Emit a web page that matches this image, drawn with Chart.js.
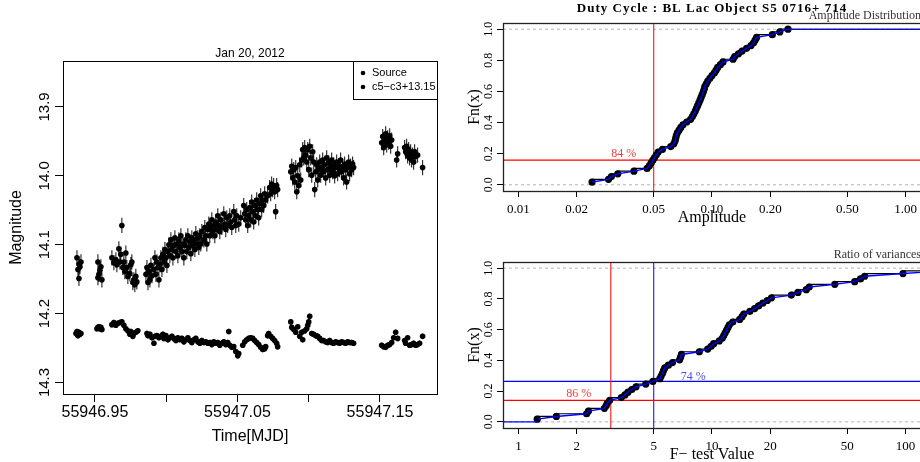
<!DOCTYPE html>
<html>
<head>
<meta charset="utf-8">
<script src="https://cdn.jsdelivr.net/npm/chart.js@4.4.0/dist/chart.umd.min.js"></script>
<style>
  html, body { margin: 0; padding: 0; background: #fff; overflow: hidden; }
  #wrap { position: relative; width: 920px; height: 462px; overflow: hidden; }
  canvas { position: absolute; }
  #lightCurve { left: 0; top: 0; width: 460px; height: 462px; }
  #ampChart { left: 460px; top: 0; width: 470px; height: 231px; }
  #fChart { left: 460px; top: 231px; width: 470px; height: 231px; }
</style>
</head>
<body>
<div id="wrap">
  <canvas id="lightCurve" width="460" height="462"></canvas>
  <canvas id="ampChart" width="470" height="231"></canvas>
  <canvas id="fChart" width="470" height="231"></canvas>
</div>
<script>
// ---- light curve (times are days after MJD0) ----
const MJD0 = 55946;

const sourceTime = [
  0.9374, 0.9381, 0.9388, 0.9388, 0.9395, 0.9402,
  0.9521, 0.9521, 0.9528, 0.9535, 0.9542, 0.9549,
  0.9619, 0.9633, 0.9647, 0.9654, 0.9668, 0.9675, 0.9682, 0.9689, 0.9696, 0.9703, 0.9710,
  0.9717, 0.9724, 0.9731, 0.9745, 0.9752, 0.9759, 0.9766, 0.9773, 0.9780, 0.9787, 0.9794,
  0.9858, 0.9865, 0.9872, 0.9879, 0.9886, 0.9893, 0.9900,
  0.9914, 0.9921, 0.9928, 0.9935, 0.9942, 0.9949, 0.9956, 0.9963, 0.9970, 0.9977,
  0.9984, 0.9991, 0.9998, 1.0005, 1.0012, 1.0019, 1.0026, 1.0033, 1.0040, 1.0047,
  1.0054, 1.0061, 1.0068, 1.0075, 1.0082, 1.0089, 1.0096, 1.0103, 1.0110, 1.0117,
  1.0124, 1.0131, 1.0138, 1.0145, 1.0152, 1.0159, 1.0166, 1.0173, 1.0180, 1.0187,
  1.0194, 1.0201, 1.0208, 1.0215, 1.0222, 1.0229, 1.0236, 1.0243, 1.0250, 1.0264,
  1.0271, 1.0278, 1.0285, 1.0292, 1.0299, 1.0306, 1.0313, 1.0320, 1.0327, 1.0334,
  1.0341, 1.0348, 1.0355, 1.0362, 1.0369, 1.0376, 1.0383, 1.0390, 1.0404, 1.0411,
  1.0418, 1.0425, 1.0432, 1.0446, 1.0453, 1.0460, 1.0474, 1.0481, 1.0488, 1.0495,
  1.0509, 1.0523, 1.0544, 1.0551, 1.0558, 1.0565, 1.0572, 1.0579, 1.0586, 1.0593,
  1.0600, 1.0607, 1.0614, 1.0621, 1.0628, 1.0635, 1.0642, 1.0649, 1.0656, 1.0663,
  1.0670, 1.0677, 1.0684, 1.0691, 1.0698, 1.0712, 1.0726, 1.0733, 1.0740, 1.0747,
  1.0754, 1.0761, 1.0768, 1.0775, 1.0782,
  1.0874, 1.0881, 1.0888, 1.0895, 1.0902, 1.0909, 1.0916, 1.0923, 1.0930, 1.0937,
  1.0944, 1.0951, 1.0958, 1.0965, 1.0972, 1.0979, 1.0986, 1.0993, 1.1000, 1.1007,
  1.1014, 1.1021, 1.1028, 1.1035, 1.1042, 1.1049, 1.1056, 1.1063, 1.1070, 1.1077,
  1.1084, 1.1091, 1.1098, 1.1105, 1.1112, 1.1119, 1.1126, 1.1133, 1.1140, 1.1147,
  1.1154, 1.1161, 1.1168, 1.1175, 1.1182, 1.1189, 1.1196, 1.1203, 1.1210, 1.1217,
  1.1224, 1.1231, 1.1238, 1.1245, 1.1252, 1.1259, 1.1266, 1.1273, 1.1280, 1.1287,
  1.1294, 1.1301, 1.1308, 1.1315,
  1.1512, 1.1519, 1.1526, 1.1533, 1.1540, 1.1547, 1.1554, 1.1561, 1.1568, 1.1575, 1.1582,
  1.1617, 1.1624, 1.1673, 1.1680, 1.1687, 1.1694, 1.1701, 1.1708, 1.1715, 1.1722,
  1.1729, 1.1736, 1.1743, 1.1750, 1.1764, 1.1799
];
const sourceMag = [
  14.119, 14.136, 14.128, 14.149, 14.132, 14.125,
  14.125, 14.148, 14.143, 14.137, 14.132, 14.151,
  14.119, 14.126, 14.122, 14.129, 14.106, 14.125, 14.114, 14.072, 14.133, 14.125, 14.139,
  14.112, 14.133, 14.146, 14.142, 14.129, 14.125, 14.155, 14.151, 14.158, 14.146, 14.154,
  14.143, 14.133, 14.155, 14.139, 14.151, 14.130, 14.145,
  14.136, 14.119, 14.143, 14.125, 14.133, 14.151, 14.129, 14.119, 14.136, 14.114,
  14.125, 14.107, 14.119, 14.130, 14.110, 14.100, 14.116, 14.093, 14.107, 14.119,
  14.101, 14.090, 14.110, 14.099, 14.116, 14.093, 14.104, 14.087, 14.110, 14.099,
  14.119, 14.101, 14.093, 14.110, 14.087, 14.104, 14.096, 14.113, 14.090, 14.101,
  14.093, 14.107, 14.084, 14.099, 14.090, 14.104, 14.087, 14.099, 14.081, 14.093,
  14.075, 14.087, 14.099, 14.078, 14.070, 14.087, 14.075, 14.064, 14.081, 14.072,
  14.087, 14.067, 14.078, 14.058, 14.072, 14.081, 14.064, 14.075, 14.055, 14.070,
  14.078, 14.061, 14.072, 14.058, 14.067, 14.075, 14.052, 14.064, 14.072, 14.058,
  14.070, 14.061, 14.043, 14.055, 14.064, 14.049, 14.072, 14.058, 14.046, 14.064,
  14.038, 14.052, 14.067, 14.043, 14.058, 14.035, 14.049, 14.061, 14.041, 14.029,
  14.049, 14.035, 14.043, 14.026, 14.035, 14.029, 14.017, 14.026, 14.012, 14.020,
  14.014, 14.023, 14.052, 14.014, 14.020,
  13.994, 13.986, 14.003, 13.991, 14.009, 13.988, 14.023, 14.000, 14.014, 13.984,
  14.006, 13.977, 13.962, 13.974, 13.959, 13.970, 13.980, 13.962, 13.991, 13.957,
  13.974, 13.999, 13.965, 13.980, 14.020, 13.994, 13.984, 14.006, 13.991, 13.980,
  13.999, 13.988, 13.977, 13.994, 13.984, 14.003, 13.974, 13.991, 13.981, 13.999,
  13.988, 13.977, 13.994, 13.984, 14.000, 13.988, 13.980, 13.997, 13.986, 13.991,
  13.977, 13.994, 13.986, 14.003, 13.983, 13.991, 14.009, 13.988, 13.980, 13.997,
  13.986, 13.991, 13.983, 13.988,
  13.952, 13.943, 13.959, 13.948, 13.939, 13.955, 13.945, 13.951, 13.942, 13.957, 13.948,
  13.977, 13.968, 13.959, 13.965, 13.957, 13.971, 13.962, 13.974, 13.965, 13.977,
  13.970, 13.980, 13.965, 13.972, 13.970, 13.988
];

const compTime = [
  0.9367, 0.9374, 0.9381, 0.9388, 0.9395, 0.9402,
  0.9514, 0.9521, 0.9528, 0.9535, 0.9542, 0.9549,
  0.9619, 0.9633, 0.9647, 0.9661, 0.9675, 0.9689, 0.9703, 0.9717, 0.9731, 0.9745,
  0.9752, 0.9766, 0.9773, 0.9787, 0.9801,
  0.9865, 0.9872, 0.9886, 0.9900, 0.9914, 0.9921, 0.9935, 0.9949, 0.9963, 0.9977,
  0.9984, 0.9998, 1.0012, 1.0026, 1.0040, 1.0054, 1.0068, 1.0082, 1.0096, 1.0110,
  1.0124, 1.0138, 1.0152, 1.0166, 1.0180, 1.0194, 1.0208, 1.0222, 1.0236, 1.0250,
  1.0264, 1.0278, 1.0292, 1.0306, 1.0320, 1.0334, 1.0348, 1.0362, 1.0376, 1.0390,
  1.0404, 1.0418, 1.0432, 1.0439, 1.0446, 1.0460, 1.0474, 1.0488, 1.0502, 1.0509,
  1.0537, 1.0551, 1.0565, 1.0579, 1.0593, 1.0607, 1.0621, 1.0635, 1.0649, 1.0663,
  1.0677, 1.0691, 1.0698,
  1.0712, 1.0719, 1.0733, 1.0747, 1.0761, 1.0775, 1.0782,
  1.0874, 1.0881, 1.0895, 1.0909, 1.0923, 1.0937, 1.0951, 1.0958, 1.0972, 1.0986,
  1.0993, 1.1000, 1.1007,
  1.1021, 1.1035, 1.1049, 1.1063, 1.1077, 1.1091, 1.1105, 1.1119, 1.1133, 1.1147,
  1.1161, 1.1175, 1.1189, 1.1203, 1.1217, 1.1231, 1.1245, 1.1259, 1.1273, 1.1287,
  1.1301, 1.1315,
  1.1512, 1.1526, 1.1540, 1.1554, 1.1568, 1.1582, 1.1596, 1.1610, 1.1624,
  1.1673, 1.1680, 1.1694, 1.1708, 1.1722, 1.1736, 1.1750, 1.1764, 1.1778, 1.1799
];
const compMag = [
  14.229, 14.226, 14.232, 14.227, 14.230, 14.229,
  14.222, 14.220, 14.219, 14.222, 14.220, 14.223,
  14.216, 14.213, 14.217, 14.214, 14.213, 14.212, 14.217, 14.222, 14.225, 14.230,
  14.226, 14.233, 14.229, 14.227, 14.225,
  14.229, 14.232, 14.230, 14.235, 14.243, 14.233, 14.232, 14.235, 14.233, 14.230,
  14.236, 14.232, 14.238, 14.235, 14.233, 14.236, 14.239, 14.235, 14.238, 14.236,
  14.241, 14.238, 14.235, 14.239, 14.242, 14.238, 14.236, 14.241, 14.243, 14.239,
  14.242, 14.241, 14.243, 14.242, 14.245, 14.241, 14.243, 14.242, 14.246, 14.243,
  14.241, 14.245, 14.242, 14.226, 14.246, 14.249, 14.248, 14.255, 14.261, 14.258,
  14.246, 14.241, 14.238, 14.236, 14.235, 14.236, 14.239, 14.242, 14.245, 14.249,
  14.252, 14.251, 14.248,
  14.232, 14.229, 14.233, 14.236, 14.239, 14.243, 14.248,
  14.212, 14.220, 14.223, 14.227, 14.219, 14.233, 14.227, 14.238, 14.225, 14.222,
  14.217, 14.212, 14.204,
  14.229, 14.230, 14.232, 14.233, 14.236, 14.239, 14.239, 14.241, 14.242, 14.239,
  14.242, 14.243, 14.241, 14.242, 14.243, 14.241, 14.242, 14.243, 14.241, 14.242,
  14.242, 14.243,
  14.246, 14.248, 14.249, 14.246, 14.245, 14.242, 14.235, 14.227, 14.236,
  14.239, 14.243, 14.235, 14.246, 14.245, 14.243, 14.246, 14.245, 14.243, 14.233
];

const SOURCE_ERR = 0.011;
const COMP_ERR = 0.004;
const seriesNames = ['Source', 'c5\u2212c3+13.15'];
const timeTicks = [55946.95, 55947.00, 55947.05, 55947.10, 55947.15];
const timeTickLabels = ['55946.95', '', '55947.05', '', '55947.15'];
const magTicks = [13.9, 14.0, 14.1, 14.2, 14.3];

// ---- duty cycle distributions (sorted) ----
const amplitude = [
  0.0240, 0.0292, 0.0302, 0.0326, 0.0395, 0.0462, 0.0475, 0.0485, 0.0495, 0.0505,
  0.0516, 0.0527, 0.0555, 0.0612, 0.0635, 0.0644, 0.0649, 0.0654, 0.0662, 0.0676,
  0.0690, 0.0708, 0.0740, 0.0775, 0.0792, 0.0806, 0.0820, 0.0831, 0.0843, 0.0855,
  0.0867, 0.0878, 0.0890, 0.0901, 0.0911, 0.0918, 0.0935, 0.0951, 0.0975, 0.1000,
  0.1028, 0.1050, 0.1070, 0.1105, 0.1140, 0.1285, 0.1310, 0.1370, 0.1430, 0.1510,
  0.1590, 0.1640, 0.1670, 0.1700, 0.2050, 0.2240, 0.2470
];
const fTest = [
  1.25, 1.57, 2.25, 2.30, 2.78, 2.84, 2.88, 2.96, 3.40, 3.55,
  3.68, 3.85, 4.05, 4.55, 4.95, 5.38, 5.46, 5.55, 5.62, 5.70,
  5.95, 6.25, 6.80, 6.88, 6.95, 8.60, 9.50, 9.90, 10.2, 10.9,
  11.3, 11.5, 11.7, 11.9, 12.1, 12.3, 12.8, 13.9, 14.3, 14.6,
  15.7, 16.6, 17.4, 18.3, 19.3, 20.3, 25.7, 27.8, 30.7, 31.8,
  43.1, 54.6, 58.5, 61.5, 97.0, 160, 260
];
const ampTicks = [0.01, 0.02, 0.05, 0.1, 0.2, 0.5, 1];
const fTicks = [1, 2, 5, 10, 20, 50, 100];
const fnTicks = [0, 0.2, 0.4, 0.6, 0.8, 1.0];
const AMP_CUT = 0.05;
const F_CUT_LOW = 3;
const F_CUT_HIGH = 5;

Chart.defaults.font.family = '"Liberation Sans", Arial, sans-serif';
Chart.defaults.color = '#000';

const SERIF = '"Liberation Serif", "Times New Roman", serif';

// frame round the plotting region
const framePlugin = {
  id: 'frame',
  afterDatasetsDraw(chart, args, opts) {
    const { ctx, chartArea: a } = chart;
    ctx.save();
    ctx.strokeStyle = opts.color || '#000';
    ctx.lineWidth = opts.width || 1;
    ctx.strokeRect(Math.round(a.left) + 0.5, Math.round(a.top) + 0.5,
      Math.round(a.right - a.left), Math.round(a.bottom - a.top));
    ctx.restore();
  }
};

// vertical error bars, in data units through the y scale
const errorBarPlugin = {
  id: 'errorBars',
  beforeDatasetsDraw(chart) {
    const { ctx, chartArea: a } = chart;
    const yScale = chart.scales.y;
    ctx.save();
    ctx.beginPath();
    ctx.rect(a.left, a.top, a.right - a.left, a.bottom - a.top);
    ctx.clip();
    chart.data.datasets.forEach((ds, di) => {
      const meta = chart.getDatasetMeta(di);
      ctx.strokeStyle = '#222';
      ctx.lineWidth = 1.1;
      ctx.beginPath();
      meta.data.forEach((pt, i) => {
        const v = ds.data[i].y;
        ctx.moveTo(pt.x, yScale.getPixelForValue(v - ds.errorBar));
        ctx.lineTo(pt.x, yScale.getPixelForValue(v + ds.errorBar));
      });
      ctx.stroke();
    });
    ctx.restore();
  }
};

// R-style boxed legend in the top right corner, plus the small title
const boxLegendPlugin = {
  id: 'boxLegend',
  afterDraw(chart) {
    const { ctx, chartArea: a } = chart;
    const w = 84, h = 38;
    const x0 = Math.round(a.right - w), y0 = Math.round(a.top);
    ctx.save();
    ctx.fillStyle = '#fff';
    ctx.fillRect(x0, y0, w, h);
    ctx.strokeStyle = '#000';
    ctx.lineWidth = 1;
    ctx.strokeRect(x0 + 0.5, y0 + 0.5, w, h);
    ctx.font = '11px "Liberation Sans", Arial, sans-serif';
    ctx.textBaseline = 'middle';
    ctx.textAlign = 'left';
    chart.data.datasets.forEach((ds, i) => {
      const y = y0 + 12 + i * 14;
      ctx.fillStyle = '#000';
      ctx.beginPath();
      ctx.arc(x0 + 10, y, 2.3, 0, Math.PI * 2);
      ctx.fill();
      ctx.fillText(ds.label, x0 + 19, y);
    });
    ctx.font = '12px "Liberation Sans", Arial, sans-serif';
    ctx.textAlign = 'center';
    ctx.fillText('Jan 20, 2012', (a.left + a.right) / 2, a.top - 7);
    ctx.restore();
  }
};

const toPoints = (ts, ms) => ts.map((t, i) => ({ x: MJD0 + t, y: ms[i] }));

new Chart(document.getElementById('lightCurve'), {
  type: 'scatter',
  data: {
    datasets: [
      {
        label: seriesNames[0],
        data: toPoints(sourceTime, sourceMag),
        errorBar: SOURCE_ERR,
        pointRadius: 2.8,
        pointBackgroundColor: '#000',
        pointBorderWidth: 0
      },
      {
        label: seriesNames[1],
        data: toPoints(compTime, compMag),
        errorBar: COMP_ERR,
        pointRadius: 2.8,
        pointBackgroundColor: '#000',
        pointBorderWidth: 0
      }
    ]
  },
  options: {
    responsive: false,
    animation: false,
    events: [],
    layout: { padding: { top: 61, right: 23, left: 0, bottom: 0 } },
    plugins: {
      legend: { display: false },
      tooltip: { enabled: false }
    },
    scales: {
      x: {
        type: 'linear',
        min: 55946.9276,
        max: 55947.19,
        afterBuildTicks: (s) => { s.ticks = timeTicks.map(v => ({ value: v })); },
        afterFit: (s) => { s.height = 68; },
        ticks: {
          callback: (v, i) => timeTickLabels[i],
          autoSkip: false,
          maxRotation: 0,
          padding: 1,
          font: { size: 16 }
        },
        grid: { display: true, drawOnChartArea: false, drawTicks: true, tickLength: 8, color: '#000' },
        border: { display: false },
        title: { display: true, text: 'Time[MJD]', font: { size: 16, lineHeight: 1 }, padding: { top: 0, bottom: 17 } }
      },
      y: {
        reverse: true,
        min: 13.8333,
        max: 14.3167,
        afterBuildTicks: (s) => { s.ticks = magTicks.map(v => ({ value: v })); },
        afterFit: (s) => { s.width = 63; },
        ticks: {
          callback: (v) => v.toFixed(1),
          minRotation: 90,
          maxRotation: 90,
          crossAlign: 'center',
          padding: -4,
          font: { size: 15 }
        },
        grid: { display: true, drawOnChartArea: false, drawTicks: true, tickLength: 8, color: '#000' },
        border: { display: false },
        title: { display: true, text: 'Magnitude', font: { size: 16, lineHeight: 1 }, padding: { top: 9, bottom: 0 } }
      }
    }
  },
  plugins: [errorBarPlugin, framePlugin, boxLegendPlugin]
});

// ---- empirical distribution panels ----
const FN_MIN = -0.04, FN_MAX = 1.04;

function ecdf(values) {
  return values.map((v, i) => ({ x: v, y: (i + 1) / values.length }));
}
function fractionAtOrBelow(values, cut) {
  return values.filter(v => v <= cut).length / values.length;
}

function textPlugin(items) {
  return {
    id: 'texts',
    afterDatasetsDraw(chart) {
      const { ctx, chartArea: a, scales } = chart;
      ctx.save();
      items.forEach(t => {
        ctx.font = t.font;
        ctx.fillStyle = t.color || '#000';
        ctx.textAlign = t.align || 'center';
        ctx.textBaseline = 'middle';
        ctx.letterSpacing = t.spacing || '0px';
        let px, py;
        if (t.data) {
          px = scales.x.getPixelForValue(t.data[0]);
          py = scales.y.getPixelForValue(t.data[1]);
        } else {
          px = t.align === 'right' ? a.right : (a.left + a.right) / 2;
          py = a.top + t.dy;
        }
        ctx.fillText(t.text, px, py);
      });
      ctx.letterSpacing = '0px';
      ctx.restore();
    }
  };
}

function drawEcdf(canvasId, p) {
  const pts = ecdf(p.values);
  const last = p.values[p.values.length - 1];
  const first = p.values[0];
  const line = (data, color, width, order, dash) => ({
    data, showLine: true, borderColor: color, borderWidth: width,
    pointRadius: 0, order, borderDash: dash || []
  });

  const datasets = [
    line(pts, '#0000ff', 1.4, 0),
    {
      data: pts, showLine: true, stepped: 'after', borderColor: '#000', borderWidth: 1.2,
      pointRadius: 3.6, pointBackgroundColor: '#000', pointBorderWidth: 0, order: 1
    },
    line([{ x: p.min, y: 0 }, { x: p.max, y: 0 }], '#b4b4b4', 1, 4, [3, 3]),
    line([{ x: p.min, y: 1 }, { x: p.max, y: 1 }], '#b4b4b4', 1, 4, [3, 3])
  ];
  if (p.tail === 'right') datasets.push(line([{ x: last, y: 1 }, { x: p.max, y: 1 }], '#1010c0', 1.4, 0));
  if (p.tail === 'left') datasets.push(line([{ x: p.min, y: 0 }, { x: first, y: 0 }], '#0000ff', 1.4, 0));

  const texts = p.heads.slice();
  p.cuts.forEach(c => {
    const frac = fractionAtOrBelow(p.values, c.value);
    datasets.push(line([{ x: c.value, y: FN_MIN }, { x: c.value, y: FN_MAX }], c.color, 1, 3));
    datasets.push(line([{ x: p.min, y: frac }, { x: p.max, y: frac }], c.color, 1.2, 3));
    texts.push({
      text: Math.round((1 - frac) * 100) + ' %',
      data: [c.labelAt[0], c.labelAt[1]],
      color: c.textColor,
      font: '12px ' + SERIF
    });
  });

  new Chart(document.getElementById(canvasId), {
    type: 'scatter',
    data: { datasets },
    options: {
      responsive: false,
      animation: false,
      events: [],
      layout: { padding: { top: p.top, right: 9, left: 0, bottom: 0 } },
      plugins: { legend: { display: false }, tooltip: { enabled: false }, frame: { color: '#222', width: 1.3 } },
      scales: {
        x: {
          type: 'logarithmic',
          min: p.min,
          max: p.max,
          afterBuildTicks: (s) => { s.ticks = p.ticks.map(v => ({ value: v })); },
          afterFit: (s) => { s.height = p.xHeight; },
          ticks: {
            callback: p.tickFormat,
            autoSkip: false,
            maxRotation: 0,
            padding: 5,
            font: { family: SERIF, size: 13 }
          },
          grid: { display: true, drawOnChartArea: false, drawTicks: true, tickLength: 6, color: '#000' },
          border: { display: false },
          title: { display: true, text: p.xTitle, font: { family: SERIF, size: 16, lineHeight: 1 }, padding: { top: 0, bottom: p.titlePad } }
        },
        y: {
          min: FN_MIN,
          max: FN_MAX,
          afterBuildTicks: (s) => { s.ticks = fnTicks.map(v => ({ value: v })); },
          afterFit: (s) => { s.width = 43; },
          ticks: {
            callback: (v) => v.toFixed(1),
            minRotation: 90,
            maxRotation: 90,
            crossAlign: 'center',
            padding: 0.5,
            font: { family: SERIF, size: 12 }
          },
          grid: { display: true, drawOnChartArea: false, drawTicks: true, tickLength: 6, color: '#000' },
          border: { display: false },
          title: { display: true, text: 'Fn(x)', font: { family: SERIF, size: 16, lineHeight: 1 }, padding: { top: 7, bottom: 0 } }
        }
      }
    },
    plugins: [framePlugin, textPlugin(texts)]
  });
}

drawEcdf('ampChart', {
  values: amplitude,
  min: 0.00832,
  max: 1.202,
  ticks: ampTicks,
  tickFormat: (v) => v.toFixed(2),
  xTitle: 'Amplitude',
  top: 23,
  xHeight: 40,
  titlePad: 5,
  tail: 'right',
  heads: [
    { text: 'Duty Cycle : BL Lac Object S5 0716+ 714', dy: -14, font: 'bold 13px ' + SERIF, spacing: '1px' },
    { text: 'Amplitude Distribution', dy: -7, align: 'right', font: '12px ' + SERIF, color: '#333' }
  ],
  cuts: [
    { value: AMP_CUT, color: '#ff0000', textColor: '#ff3a3a', labelAt: [0.035, 0.20] }
  ]
});

drawEcdf('fChart', {
  values: fTest,
  min: 0.832,
  max: 120.2,
  ticks: fTicks,
  tickFormat: (v) => String(v),
  xTitle: 'F\u2212 test Value',
  top: 31,
  xHeight: 34,
  titlePad: -1,
  tail: 'left',
  heads: [
    { text: 'Ratio of variances', dy: -7, align: 'right', font: '12px ' + SERIF, color: '#333' }
  ],
  cuts: [
    { value: F_CUT_LOW, color: '#ff0000', textColor: '#ff3a3a', labelAt: [2.05, 0.18] },
    { value: F_CUT_HIGH, color: '#0000ff', textColor: '#4a4aff', labelAt: [8.0, 0.29] }
  ]
});
</script>
</body>
</html>
